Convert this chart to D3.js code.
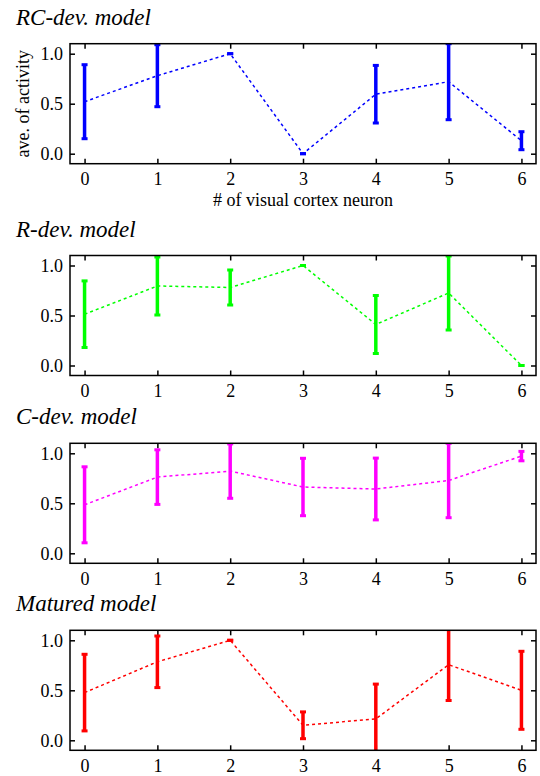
<!DOCTYPE html>
<html>
<head>
<meta charset="utf-8">
<script src="https://cdn.jsdelivr.net/npm/d3@7"></script>
<style>
  html, body { margin: 0; padding: 0; background: #fff; }
  svg { display: block; }
  svg text { font-family: "Liberation Serif", "Times New Roman", Times, serif !important; fill: #000; }
</style>
</head>
<body>
<svg id="chart" width="540" height="776"></svg>
<script>
// ---- data ----
const neurons = [0, 1, 2, 3, 4, 5, 6];
const yTicks = [0.0, 0.5, 1.0];
const titles = ["RC-dev. model", "R-dev. model", "C-dev. model", "Matured model"];
const colors = ["#0000ff", "#00ff00", "#ff00ff", "#ff0000"];

const rcMean = [0.52, 0.78, 1.00, 0.00, 0.595, 0.72, 0.13];
const rcSd   = [0.37, 0.31, 0.00, 0.00, 0.288, 0.38, 0.09];

const rMean  = [0.513, 0.795, 0.78, 1.00, 0.41, 0.725, 0.00];
const rSd    = [0.333, 0.29, 0.175, 0.00, 0.29, 0.37, 0.00];

const cMean  = [0.485, 0.762, 0.822, 0.663, 0.643, 0.728, 0.972];
const cSd    = [0.38, 0.273, 0.272, 0.287, 0.309, 0.372, 0.047];

const mMean  = [0.477, 0.785, 1.00, 0.15, 0.214, 0.756, 0.50];
const mSd    = [0.383, 0.258, 0.00, 0.134, 0.348, 0.358, 0.39];

const means = [rcMean, rMean, cMean, mMean];
const sds = [rcSd, rSd, cSd, mSd];

// ---- layout ----
const svg = d3.select("#chart");
const left = 70, right = 536, panelH = 120;
const tops = [43.7, 255.5, 443.3, 630.3];
const FONT = '"Liberation Serif", "Times New Roman", Times, serif';

const x = d3.scaleLinear().domain([-0.2, 6.2]).range([left, right]);

tops.forEach((top, p) => {
  const y = d3.scaleLinear().domain([-0.1, 1.1]).range([top + panelH, top]);
  const g = svg.append("g");
  const clipId = "clip" + p;
  g.append("clipPath").attr("id", clipId)
    .append("rect").attr("x", left).attr("y", top).attr("width", right - left).attr("height", panelH);

  // title
  g.append("text").attr("x", 16).attr("y", top - 19)
    .attr("font-size", 23).attr("font-style", "italic").attr("font-family", FONT).text(titles[p]);

  // axes with inward ticks
  const axB = d3.axisBottom(x).tickValues(neurons).tickSize(-5).tickPadding(9).tickFormat(d3.format("d"));
  const axT = d3.axisTop(x).tickValues(neurons).tickSize(-5).tickFormat("");
  const axL = d3.axisLeft(y).tickValues(yTicks).tickSize(-5).tickPadding(7).tickFormat(d3.format(".1f"));
  const axR = d3.axisRight(y).tickValues(yTicks).tickSize(-5).tickFormat("");

  const styleAxis = sel => {
    sel.attr("font-family", FONT).attr("font-size", 18);
    sel.select(".domain").remove();
    sel.selectAll(".tick line").attr("stroke", "#000").attr("stroke-width", 1.5);
    sel.selectAll(".tick text").attr("font-size", 18).attr("font-family", FONT).attr("fill", "#000");
  };
  g.append("g").attr("transform", `translate(0,${top + panelH})`).call(axB).call(styleAxis);
  g.append("g").attr("transform", `translate(0,${top})`).call(axT).call(styleAxis);
  g.append("g").attr("transform", `translate(${left},0)`).call(axL).call(styleAxis);
  g.append("g").attr("transform", `translate(${right},0)`).call(axR).call(styleAxis);

  const plot = g.append("g").attr("clip-path", `url(#${clipId})`);
  const col = colors[p];
  const m = means[p], s = sds[p];

  // dashed mean line
  const line = d3.line().x((d, i) => x(neurons[i])).y(d => y(d));
  plot.append("path").datum(m).attr("d", line)
    .attr("fill", "none").attr("stroke", col).attr("stroke-width", 1.5)
    .attr("stroke-dasharray", "3,3");

  // error bars
  neurons.forEach((n, i) => {
    const lo = m[i] - s[i], hi = m[i] + s[i];
    plot.append("line").attr("x1", x(n)).attr("x2", x(n))
      .attr("y1", y(lo)).attr("y2", y(hi))
      .attr("stroke", col).attr("stroke-width", 3.5);
    [lo, hi].forEach(v => {
      plot.append("rect").attr("x", x(n) - 3).attr("y", y(v) - 1.5)
        .attr("width", 6).attr("height", 3).attr("fill", col);
    });
  });

  // frame
  g.append("rect").attr("x", left).attr("y", top).attr("width", right - left).attr("height", panelH)
    .attr("fill", "none").attr("stroke", "#000").attr("stroke-width", 1.5);

  if (p === 0) {
    g.append("text").attr("transform", `translate(29,${top + panelH / 2}) rotate(-90)`)
      .attr("text-anchor", "middle").attr("font-size", 18).attr("font-family", FONT).text("ave. of activity");
    g.append("text").attr("x", (left + right) / 2).attr("y", 206)
      .attr("text-anchor", "middle").attr("font-size", 18).attr("font-family", FONT).text("# of visual cortex neuron");
  }
});
</script>
</body>
</html>
